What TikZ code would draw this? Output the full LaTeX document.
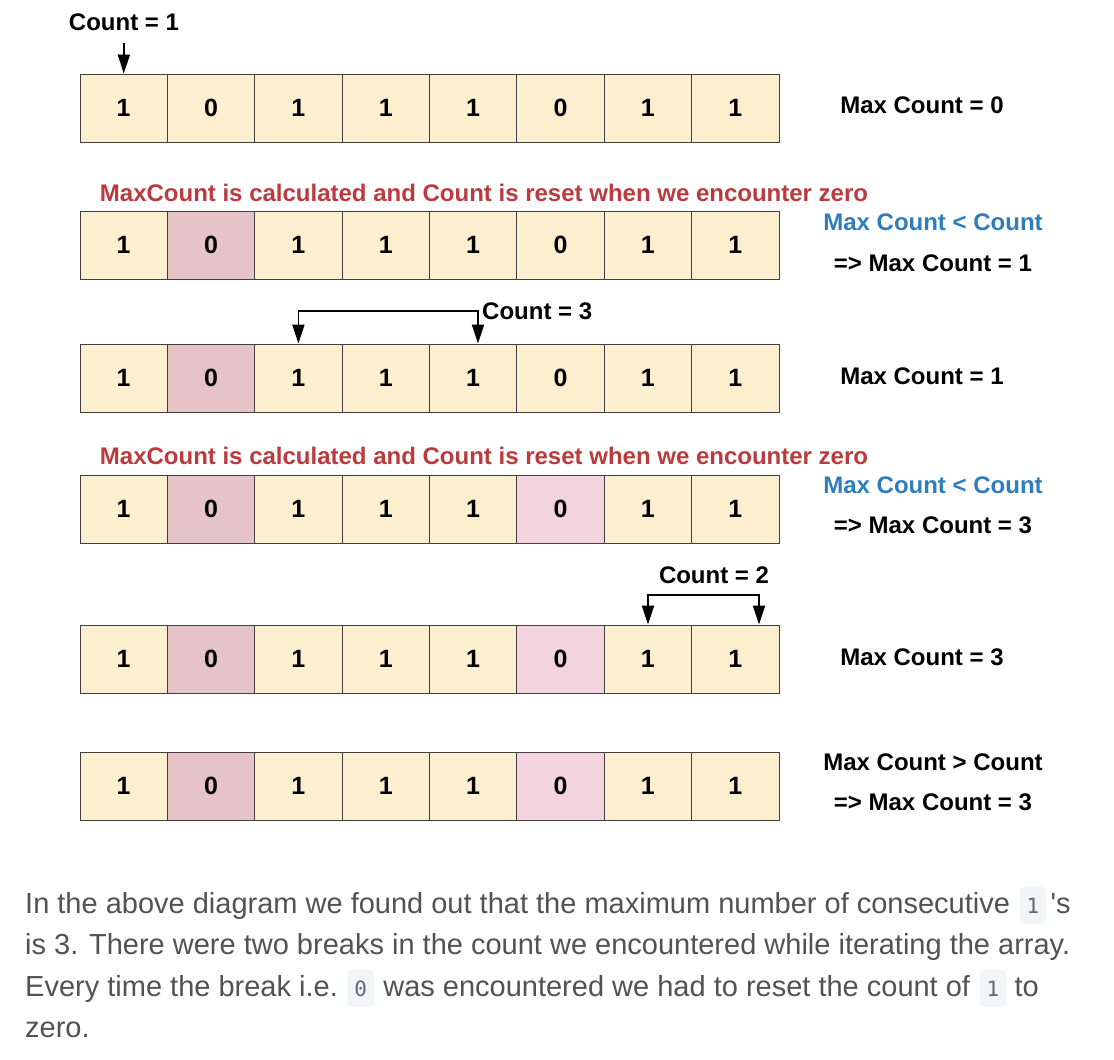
\documentclass[tikz,border=0pt]{standalone}
\usepackage{fontspec}
\setmainfont{Liberation Sans}
\newfontfamily\codefont{DejaVu Sans Mono}
\usetikzlibrary{arrows.meta}
\definecolor{cellY}{HTML}{FCEFCF}
\definecolor{cellR}{HTML}{E6C3C6}
\definecolor{cellP}{HTML}{F3D3DE}
\definecolor{redT}{HTML}{BB3A3D}
\definecolor{blueT}{HTML}{2F7DBD}
\definecolor{paraT}{HTML}{525252}
\definecolor{codeBg}{HTML}{F3F6F9}
\definecolor{codeT}{HTML}{5A6B7B}
\begin{document}
\begin{tikzpicture}[x=1pt,y=-1pt,
  cell/.style={draw=black!75, line width=0.9pt, minimum width=87.375pt, minimum height=68pt,
    inner sep=0pt, font=\fontsize{25}{29}\selectfont\bfseries, fill=cellY},
  lbl/.style={font=\fontsize{24}{28}\selectfont\bfseries, inner sep=0pt},
  redlbl/.style={lbl, text=redT},
  bluelbl/.style={lbl, text=blueT},
  arr/.style={line width=1.8pt, -{Triangle[length=19pt,width=12pt]}},
  barr/.style={line width=1.8pt, {Triangle[length=19pt,width=12pt]}-{Triangle[length=19pt,width=12pt]}},
  para/.style={font=\fontsize{29}{33}\selectfont, text=paraT, inner sep=0pt, anchor=base west},
  code/.style={fill=codeBg, rounded corners=4pt, inner xsep=7pt, inner ysep=0pt, minimum height=37pt,
    text=codeT, font=\codefont\fontsize{21}{24}\selectfont, anchor=base west}
]
\useasboundingbox (0,0) rectangle (1114,1060);

% arrays
\foreach \r/\y in {1/108,2/245,3/378,4/509,5/659,6/786}{
  \foreach \v [count=\c] in {1,0,1,1,1,0,1,1}{
    \def\fc{cellY}
    \ifnum\c=2 \ifnum\r>1 \def\fc{cellR}\fi\fi
    \ifnum\c=6 \ifnum\r>3 \def\fc{cellP}\fi\fi
    \node[cell, fill=\fc] (r\r c\c) at ({80+87.375*(\c-0.5)}, \y) {\v};
  }
}

% row 1
\node[lbl] (cnt1) at (124,22) {Count = 1};
\coordinate (a1) at (124,43);
\draw[arr] (a1) -- (r1c1.north);
\node[lbl] (mc1) at (922,105) {Max Count = 0};

% row 2
\node[redlbl] (red2) at (484,193) {MaxCount is calculated and Count is reset when we encounter zero};
\node[bluelbl] (blue2) at (933,222) {Max Count < Count};
\node[lbl] (res2) at (933,263) {=> Max Count = 1};

% row 3
\coordinate (k3a) at (r3c3.north |- 0,311);
\coordinate (k3b) at (478,311);
\node[lbl, anchor=west] (cnt3) at (482,311) {Count = 3};
\draw[barr] (r3c3.north) -- (k3a) -- (k3b) -- (k3b |- r3c5.north);
\node[lbl] (mc3) at (922,376) {Max Count = 1};

% row 4
\node[redlbl] (red4) at (484,456) {MaxCount is calculated and Count is reset when we encounter zero};
\node[bluelbl] (blue4) at (933,485) {Max Count < Count};
\node[lbl] (res4) at (933,525) {=> Max Count = 3};

% row 5
\node[lbl] (cnt5) at (714,575) {Count = 2};
\coordinate (k5a) at (648,595);
\coordinate (k5b) at (759,595);
\draw[barr] (k5a |- r5c7.north) -- (k5a) -- (k5b) -- (k5b |- r5c8.north);
\node[lbl] (mc5) at (922,657) {Max Count = 3};

% row 6
\node[lbl] (gt6) at (933,762) {Max Count > Count};
\node[lbl] (res6) at (933,802) {=> Max Count = 3};

% paragraph
\node[para] (p1a) at (25,913) {In the above diagram we found out that the maximum number of consecutive};
\node[code, xshift=9pt] (p1b) at (p1a.base east) {1};
\node[para, xshift=4pt] (p1c) at (p1b.base east) {\textquotesingle s};
\node[para] (p2) at (25,954) {is 3. There were two breaks in the count we encountered while iterating the array.};
\node[para] (p3a) at (25,996) {Every time the break i.e.};
\node[code, xshift=9pt] (p3b) at (p3a.base east) {0};
\node[para, xshift=9pt] (p3c) at (p3b.base east) {was encountered we had to reset the count of};
\node[code, xshift=9pt] (p3d) at (p3c.base east) {1};
\node[para, xshift=8pt] (p3e) at (p3d.base east) {to};
\node[para] (p4) at (25,1037) {zero.};
\end{tikzpicture}
\end{document}
